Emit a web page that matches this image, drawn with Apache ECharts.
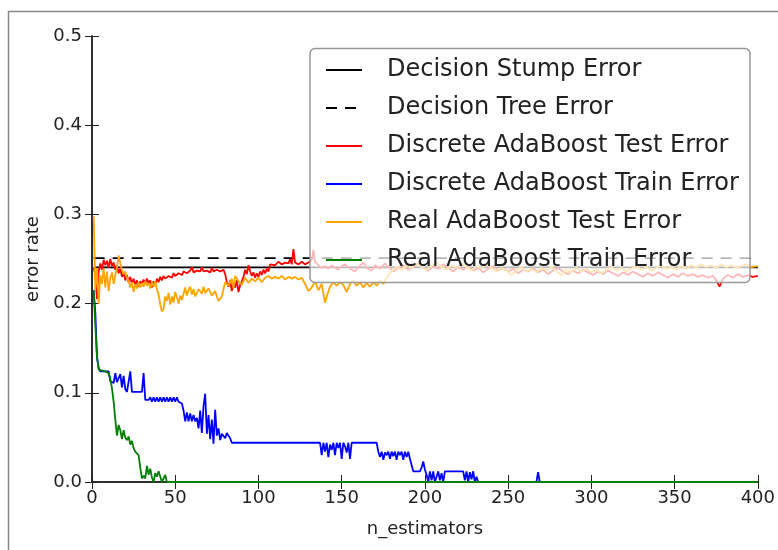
<!DOCTYPE html>
<html>
<head>
<meta charset="utf-8">
<script src="https://cdn.jsdelivr.net/npm/echarts@6/dist/echarts.min.js"></script>
<style>html,body{margin:0;padding:0;background:#fff}#chart{width:778px;height:550px}</style>
</head>
<body>
<div id="chart"></div>
<script>
// ---- data ----
const seriesNames = ['Decision Stump Error','Decision Tree Error','Discrete AdaBoost Test Error','Discrete AdaBoost Train Error','Real AdaBoost Test Error','Real AdaBoost Train Error'];
const xTicks = [0, 50, 100, 150, 200, 250, 300, 350, 400];
const yTicks = [0.0, 0.1, 0.2, 0.3, 0.4, 0.5];
const nRange = [1, 400];
const stumpErr = 0.2405;
const treeErr = 0.251;

const discreteTest = [[1,0.240],[2,0.232],[3,0.205],[4,0.236],[5,0.245],[6,0.238],[7,0.249],[8,0.243],[9,0.248],[10,0.240],
[11,0.250],[12,0.242],[13,0.246],[14,0.238],[15,0.243],[16,0.234],[17,0.239],[18,0.230],[19,0.235],[20,0.226],
[21,0.232],[22,0.224],[23,0.230],[24,0.222],[25,0.228],[26,0.221],[27,0.226],[28,0.219],[29,0.225],[30,0.222],
[31,0.227],[32,0.222],[33,0.228],[34,0.223],[35,0.226],[36,0.218],[37,0.225],[38,0.221],[39,0.228],[40,0.224],
[41,0.230],[42,0.226],[43,0.231],[44,0.228],[45,0.230],[46,0.231],[47,0.233],[48,0.229],[49,0.234],[50,0.231],
[52,0.234],[54,0.232],[55,0.236],[57,0.234],[59,0.237],[60,0.241],[61,0.235],[63,0.237],[65,0.236],[66,0.241],
[67,0.236],[69,0.237],[71,0.235],[72,0.240],[73,0.236],[75,0.238],[77,0.236],[79,0.238],[80,0.233],[81,0.224],
[82,0.219],[83,0.226],[84,0.214],[85,0.222],[86,0.218],[87,0.226],[88,0.213],[89,0.221],[90,0.225],[91,0.230],
[92,0.238],[93,0.233],[94,0.243],[95,0.236],[96,0.231],[97,0.235],[98,0.229],[99,0.234],[100,0.230],[101,0.236],
[102,0.232],[103,0.238],[104,0.234],[105,0.239],[106,0.236],[107,0.244],[108,0.246],[110,0.243],[112,0.247],[114,0.244],
[116,0.246],[118,0.245],[119,0.250],[120,0.244],[121,0.261],[122,0.246],[124,0.244],[126,0.247],[128,0.244],[130,0.246],
[132,0.249],[133,0.260],[134,0.247],[136,0.243],[138,0.240],[140,0.242],[142,0.239],[144,0.243],[146,0.240],[148,0.238],
[150,0.242],[152,0.244],[155,0.239],[158,0.236],[160,0.241],[163,0.246],[165,0.240],[168,0.237],[170,0.243],[173,0.239],
[176,0.245],[178,0.241],[181,0.236],[184,0.240],[187,0.243],[190,0.238],[193,0.241],[196,0.245],[199,0.240],[202,0.237],
[205,0.242],[208,0.239],[211,0.244],[214,0.240],[217,0.236],[220,0.241],[223,0.238],[226,0.242],[229,0.237],[232,0.240],
[235,0.235],[238,0.239],[241,0.242],[244,0.237],[247,0.240],[250,0.236],[253,0.239],[256,0.234],[259,0.238],[262,0.236],
[265,0.240],[268,0.235],[271,0.238],[274,0.233],[277,0.237],[280,0.240],[283,0.236],[286,0.233],[289,0.237],[292,0.234],
[295,0.238],[298,0.235],[301,0.232],[304,0.236],[307,0.233],[310,0.237],[313,0.234],[316,0.231],[319,0.235],[322,0.232],
[325,0.236],[328,0.233],[331,0.230],[334,0.234],[337,0.231],[340,0.235],[343,0.232],[346,0.229],[349,0.233],[352,0.230],
[355,0.234],[358,0.231],[361,0.233],[364,0.230],[367,0.232],[370,0.229],[373,0.231],[375,0.226],[377,0.219],[379,0.228],
[382,0.232],[385,0.229],[388,0.233],[391,0.230],[394,0.232],[397,0.230],[400,0.231]];

const discreteTrain = [[1,0.215],[2,0.190],[3,0.140],[4,0.128],[5,0.124],[10,0.124],[11,0.113],[12,0.115],[13,0.111],[14,0.122],
[15,0.112],[16,0.111],[17,0.121],[18,0.106],[19,0.119],[20,0.104],[21,0.101],[22,0.101],[23,0.124],[24,0.101],
[30,0.101],[31,0.122],[32,0.092],[34,0.092],[35,0.095],[36,0.090],[37,0.095],[38,0.090],[39,0.095],[40,0.090],
[41,0.095],[42,0.090],[43,0.095],[44,0.090],[45,0.095],[46,0.090],[47,0.095],[48,0.090],[49,0.095],[50,0.090],
[51,0.095],[52,0.090],[53,0.092],[54,0.088],[55,0.080],[56,0.068],[57,0.078],[58,0.068],[59,0.077],[60,0.068],
[61,0.075],[62,0.068],[63,0.072],[64,0.060],[65,0.080],[66,0.055],[67,0.085],[68,0.099],[69,0.054],[70,0.075],
[71,0.048],[72,0.070],[73,0.043],[74,0.081],[75,0.052],[76,0.060],[77,0.047],[78,0.054],[79,0.053],[80,0.049],
[81,0.055],[82,0.055],[83,0.049],[84,0.044],[137,0.044],[138,0.030],[139,0.044],[140,0.034],[141,0.044],[142,0.028],
[143,0.042],[144,0.036],[145,0.044],[146,0.030],[147,0.044],[148,0.038],[149,0.044],[150,0.026],[151,0.044],[152,0.040],
[153,0.033],[154,0.044],[155,0.026],[156,0.044],[171,0.044],[172,0.034],[173,0.028],[174,0.034],[175,0.025],[176,0.033],
[177,0.030],[178,0.034],[179,0.026],[180,0.034],[181,0.029],[182,0.034],[183,0.025],[184,0.034],[185,0.030],[186,0.034],
[187,0.025],[188,0.034],[189,0.028],[190,0.034],[191,0.026],[192,0.024],[193,0.012],[197,0.012],[198,0.016],[199,0.023],
[200,0.014],[201,0.008],[202,0.000],[203,0.012],[204,0.002],[205,0.012],[206,0.000],[207,0.006],[208,0.012],[209,0.002],
[210,0.010],[211,0.000],[212,0.012],[223,0.012],[224,0.002],[225,0.012],[226,0.000],[227,0.011],[228,0.003],[229,0.012],
[230,0.000],[231,0.006],[232,0.000],[267,0.000],[268,0.011],[269,0.000],[400,0.000]];

const realTest = [[1,0.298],[2,0.215],[3,0.240],[4,0.200],[5,0.232],[6,0.222],[7,0.240],[8,0.218],[9,0.236],[10,0.214],
[11,0.228],[12,0.235],[13,0.222],[14,0.232],[15,0.240],[16,0.254],[17,0.245],[18,0.238],[19,0.233],[20,0.236],
[21,0.229],[22,0.226],[23,0.218],[24,0.224],[25,0.213],[26,0.222],[27,0.217],[28,0.224],[29,0.218],[30,0.223],
[31,0.219],[32,0.225],[33,0.220],[34,0.223],[35,0.217],[36,0.224],[37,0.219],[38,0.225],[39,0.216],[40,0.210],
[41,0.199],[42,0.191],[43,0.194],[44,0.208],[45,0.203],[46,0.212],[47,0.199],[48,0.208],[49,0.201],[50,0.213],
[51,0.207],[52,0.200],[53,0.209],[54,0.204],[55,0.211],[56,0.218],[57,0.209],[58,0.215],[59,0.219],[60,0.210],
[61,0.216],[62,0.208],[64,0.216],[66,0.211],[67,0.219],[68,0.212],[70,0.217],[72,0.209],[74,0.214],[75,0.208],
[76,0.203],[77,0.202],[78,0.208],[79,0.216],[80,0.224],[82,0.220],[84,0.228],[85,0.217],[86,0.231],[88,0.225],
[90,0.221],[92,0.229],[94,0.223],[96,0.228],[98,0.225],[100,0.229],[102,0.224],[104,0.229],[106,0.231],[108,0.228],
[110,0.230],[112,0.228],[114,0.231],[116,0.227],[118,0.230],[120,0.228],[122,0.230],[124,0.227],[126,0.229],[128,0.222],
[130,0.214],[132,0.218],[134,0.225],[136,0.215],[138,0.222],[140,0.201],[141,0.208],[143,0.219],[145,0.224],[147,0.220],
[149,0.224],[151,0.221],[153,0.213],[155,0.222],[157,0.226],[159,0.220],[161,0.224],[163,0.218],[165,0.223],[167,0.219],
[169,0.224],[171,0.220],[173,0.226],[175,0.222],[177,0.229],[179,0.234],[181,0.238],[183,0.241],[186,0.238],[189,0.243],
[192,0.240],[195,0.245],[198,0.241],[201,0.238],[204,0.242],[207,0.246],[210,0.241],[213,0.238],[216,0.243],[219,0.240],
[222,0.245],[225,0.241],[228,0.237],[231,0.242],[234,0.239],[237,0.244],[240,0.240],[243,0.236],[246,0.240],[249,0.237],
[252,0.232],[255,0.238],[258,0.241],[261,0.236],[264,0.239],[267,0.235],[270,0.240],[273,0.237],[276,0.241],[279,0.236],
[282,0.232],[285,0.238],[288,0.235],[291,0.240],[294,0.236],[297,0.239],[300,0.235],[303,0.238],[306,0.234],[309,0.238],
[312,0.241],[315,0.237],[318,0.240],[321,0.236],[324,0.239],[327,0.242],[330,0.238],[333,0.241],[336,0.237],[339,0.240],
[342,0.243],[345,0.239],[348,0.241],[351,0.238],[354,0.242],[357,0.239],[360,0.243],[363,0.240],[366,0.244],[369,0.241],
[372,0.243],[375,0.240],[378,0.244],[381,0.241],[384,0.243],[387,0.240],[390,0.242],[393,0.244],[396,0.241],[400,0.242]];

const realTrain = [[1,0.215],[2,0.175],[3,0.140],[4,0.126],[5,0.124],[8,0.124],[9,0.122],[10,0.122],[11,0.116],[12,0.105],
[13,0.090],[14,0.070],[15,0.052],[16,0.064],[17,0.058],[18,0.048],[19,0.058],[20,0.050],[21,0.047],[22,0.051],
[23,0.042],[24,0.046],[25,0.038],[26,0.034],[27,0.032],[28,0.030],[29,0.016],[30,0.004],[31,0.007],[32,0.004],
[33,0.018],[34,0.008],[35,0.015],[36,0.005],[37,0.000],[38,0.010],[39,0.006],[40,0.012],[41,0.010],[42,0.000],
[43,0.004],[44,0.008],[45,0.000],[400,0.000]];

// ---- chart ----
const FONT = 'DejaVu Sans';
const chart = echarts.init(document.getElementById('chart'), null, {renderer: 'canvas'});
const axisLine = {show: true, lineStyle: {color: '#222', width: 1.5}};
const tickStyle = {show: true, inside: true, length: 7, lineStyle: {color: '#222', width: 1}};
const colors = ['#000000', '#000000', '#ff0000', '#0000ff', '#ffa500', '#008000'];
const datasets = [
  [[nRange[0], stumpErr], [nRange[1], stumpErr]],
  [[nRange[0], treeErr], [nRange[1], treeErr]],
  discreteTest, discreteTrain, realTest, realTrain
];
const series = seriesNames.map((name, i) => ({
  name: name,
  type: 'line',
  data: datasets[i],
  symbol: 'none',
  showSymbol: false,
  animation: false,
  silent: true,
  xAxisIndex: 0, yAxisIndex: 0,
  lineStyle: {color: colors[i], width: 1.8, type: i === 1 ? [11, 8] : 'solid'},
  itemStyle: {color: colors[i]}
}));

chart.setOption({
  animation: false,
  backgroundColor: '#ffffff',
  grid: {left: 92, right: 16, top: 36, bottom: 68, containLabel: false},
  xAxis: [{
    type: 'value', min: 0, max: 400, interval: 50, position: 'bottom',
    name: 'n_estimators', nameLocation: 'middle', nameGap: 38,
    nameTextStyle: {fontFamily: FONT, fontSize: 18, color: '#222'},
    axisLine: axisLine, axisTick: tickStyle, splitLine: {show: false},
    axisLabel: {fontFamily: FONT, fontSize: 18, color: '#222', margin: 7}
  }, {
    type: 'value', min: 0, max: 400, interval: 50, position: 'top',
    axisLine: axisLine, axisTick: tickStyle, splitLine: {show: false},
    axisLabel: {show: false}
  }],
  yAxis: [{
    type: 'value', min: 0, max: 0.5, interval: 0.1, position: 'left',
    name: 'error rate', nameLocation: 'middle', nameGap: 50,
    nameTextStyle: {fontFamily: FONT, fontSize: 18, color: '#222'},
    axisLine: axisLine, axisTick: tickStyle, splitLine: {show: false},
    axisLabel: {fontFamily: FONT, fontSize: 18, color: '#222', margin: 10,
      formatter: v => v.toFixed(1)}
  }, {
    type: 'value', min: 0, max: 0.5, interval: 0.1, position: 'right',
    axisLine: axisLine, axisTick: tickStyle, splitLine: {show: false},
    axisLabel: {show: false}
  }],
  legend: {
    orient: 'vertical', left: 325, top: 58, padding: 0,
    itemWidth: 36, itemHeight: 14, itemGap: 14,
    data: seriesNames, selectedMode: false,
    backgroundColor: 'transparent', z: 10,
    itemStyle: {opacity: 0},
    textStyle: {fontFamily: FONT, fontSize: 24, color: '#222', padding: [0, 0, 0, 20]}
  },
  graphic: {
    elements: [
      {type: 'rect', z: 5, zlevel: 0, shape: {x: 310, y: 48.5, width: 440, height: 234, r: 5},
       style: {fill: 'rgba(255,255,255,0.72)', stroke: '#999', lineWidth: 1.5}, silent: true},
      {type: 'polyline', z: 5, shape: {points: [[8.5, 550], [8.5, 11.5], [778, 11.5]]},
       style: {fill: null, stroke: '#888', lineWidth: 1.5}, silent: true}
    ]
  },
  series: series
});
</script>
</body>
</html>
